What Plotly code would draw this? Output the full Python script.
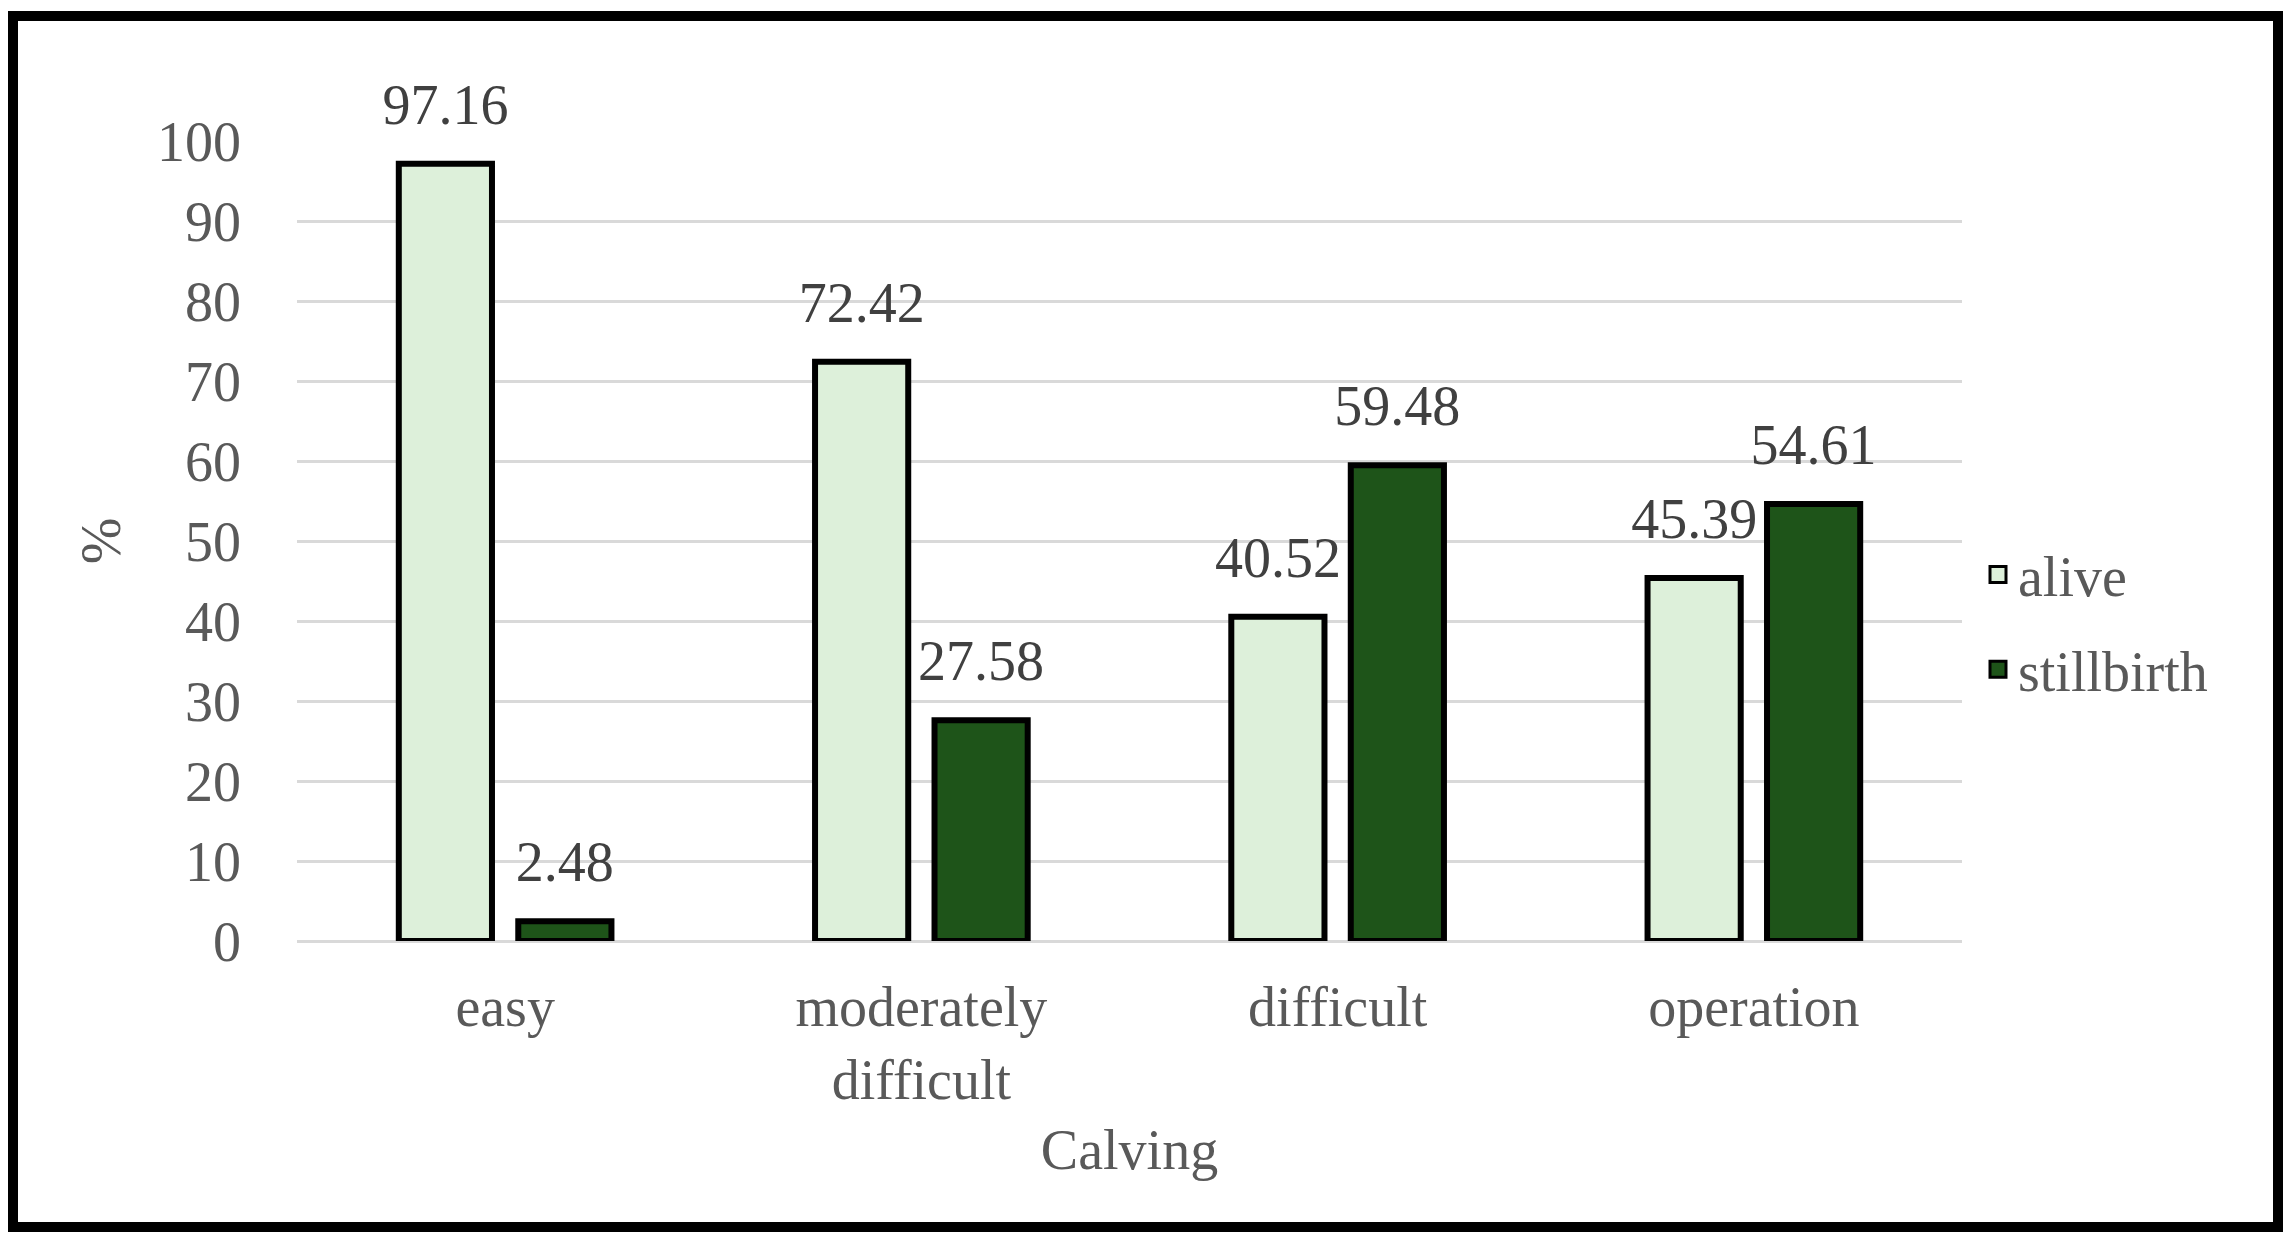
import plotly.graph_objects as go

categories = ["easy", "moderately<br>difficult", "difficult", "operation"]
alive = [97.16, 72.42, 40.52, 45.39]
stillbirth = [2.48, 27.58, 59.48, 54.61]
y_ticks = [0, 10, 20, 30, 40, 50, 60, 70, 80, 90, 100]

FONT = "Liberation Serif"
W, H = 2295, 1246
ML, MR, MT, MB = 297, 333, 141, 305
PW, PH = W - ML - MR, H - MT - MB
BARGAP = 0.426


def px_to_paper_x(px):
    return (px - ML) / PW


def px_to_paper_y(py):
    return (H - MB - py) / PH


fig = go.Figure()
series = [("alive", alive, "#DDF0DA"), ("stillbirth", stillbirth, "#1E5419")]
for name, vals, col in series:
    fig.add_trace(go.Bar(
        name=name, x=categories, y=vals,
        marker=dict(color=col, line=dict(color="black", width=6)),
        legendgroup=name, showlegend=False, hoverinfo="x+y+name",
    ))
# data labels, grouped like the bars
for name, vals, col in series:
    fig.add_trace(go.Scatter(
        x=categories, y=vals, mode="markers+text",
        text=[f"{v:.2f}" for v in vals], textposition="top center",
        textfont=dict(family=FONT, size=56, color="#404040"),
        marker=dict(size=40, opacity=0),
        cliponaxis=False, showlegend=False, hoverinfo="skip",
        legendgroup=name,
    ))
# legend entries (square swatches), on a hidden overlay axis pair
for name, vals, col in series:
    fig.add_trace(go.Scatter(
        x=[categories[0]], y=[None], mode="markers", name=name,
        marker=dict(symbol="square", size=16, color=col,
                    line=dict(color="black", width=3)),
        xaxis="x2", yaxis="y2", legendgroup=name, showlegend=True,
        hoverinfo="skip",
    ))

fig.update_layout(
    width=W, height=H,
    margin=dict(l=ML, r=MR, t=MT, b=MB, autoexpand=False),
    paper_bgcolor="white", plot_bgcolor="white",
    barmode="group", bargap=BARGAP, bargroupgap=0.22,
    scattermode="group", scattergap=BARGAP,
    font=dict(family=FONT, size=56, color="#595959"),
    showlegend=True,
    legend=dict(
        x=px_to_paper_x(1978), y=px_to_paper_y(622),
        xanchor="left", yanchor="middle",
        font=dict(family=FONT, size=56, color="#595959"),
        traceorder="grouped", tracegroupgap=19,
        bgcolor="rgba(0,0,0,0)",
    ),
    xaxis=dict(
        showgrid=False, showline=False, zeroline=False,
        ticks="", ticklabelstandoff=28,
        tickfont=dict(family=FONT, size=56, color="#595959"),
        title=dict(text="Calving", standoff=20,
                   font=dict(family=FONT, size=56, color="#595959")),
        automargin=False,
    ),
    yaxis=dict(
        range=[0, 100], tickvals=y_ticks,
        showgrid=True, gridcolor="#D9D9D9", gridwidth=3,
        zeroline=True, zerolinecolor="#D9D9D9", zerolinewidth=3,
        showline=False, ticks="", ticklabelstandoff=55,
        tickfont=dict(family=FONT, size=56, color="#595959"),
        title=dict(text="%", standoff=18,
                   font=dict(family=FONT, size=56, color="#595959")),
        automargin=False,
    ),
    xaxis2=dict(overlaying="x", visible=False, showgrid=False),
    yaxis2=dict(overlaying="y", visible=False, showgrid=False, range=[0, 1]),
    shapes=[dict(
        type="rect", xref="paper", yref="paper", layer="above",
        x0=px_to_paper_x(13), x1=px_to_paper_x(2278),
        y0=px_to_paper_y(1227), y1=px_to_paper_y(16),
        line=dict(color="black", width=10), fillcolor="rgba(0,0,0,0)",
    )],
)

fig.write_html("out.html", config={"displayModeBar": False},
               post_script="document.body.style.margin='0';")
